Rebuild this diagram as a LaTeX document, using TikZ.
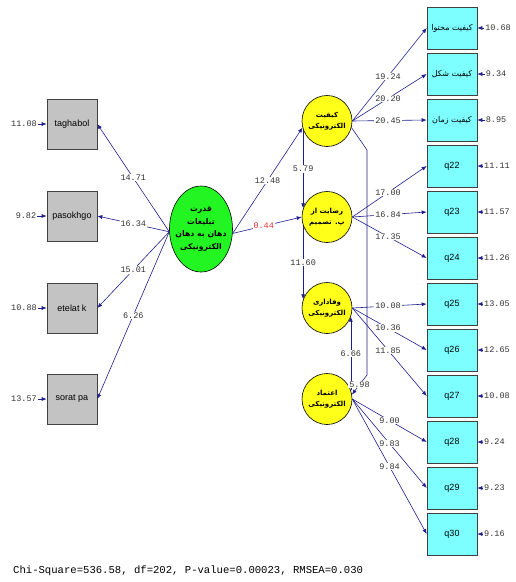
\documentclass[tikz,border=0pt]{standalone}
\usepackage{fontspec}
\setmonofont{Liberation Mono}
\setsansfont{Liberation Sans}
\newfontfamily\arabicfont[Script=Arabic]{DejaVu Sans}
\TeXXeTstate=1
\newcommand{\fa}[1]{{\arabicfont\beginR #1\endR}}
\usetikzlibrary{arrows.meta,shapes.geometric}
\definecolor{PathBlue}{HTML}{1E1E8C}
\definecolor{LatentYellow}{HTML}{FFFF1A}
\definecolor{LatentGreen}{HTML}{22F522}
\definecolor{ItemCyan}{HTML}{7DFFFF}
\definecolor{ItemGray}{HTML}{C3C3C3}
\definecolor{ValueRed}{HTML}{F03030}

\begin{document}
\begin{tikzpicture}[x=1pt,y=-1pt,
  link/.style={draw=PathBlue,line width=0.6pt,-{Latex[length=5pt,width=4pt]}},
  coef/.style={fill=white,inner sep=0.8pt,text=black!80,font=\ttfamily\fontsize{8.5}{9}\selectfont},
  errlab/.style={inner sep=1pt,text=black!80,font=\ttfamily\fontsize{8.5}{9}\selectfont},
  item/.style={draw=black!75,line width=0.6pt,minimum width=50pt,font=\sffamily\fontsize{9}{10}\selectfont},
  latent/.style={ellipse,draw,line width=0.6pt,fill=LatentYellow,minimum width=50pt,minimum height=51pt,inner xsep=-9pt,inner ysep=-2pt,align=center,font=\bfseries\fontsize{7}{11}\selectfont}]
  \useasboundingbox (0,0) rectangle (515,582);
  % left indicators
  \node[item,fill=ItemGray,minimum height=50pt] (taghabol) at (72,124) {taghabol};
  \node[item,fill=ItemGray,minimum height=50pt] (pasokhgo) at (72,216) {pasokhgo};
  \node[item,fill=ItemGray,minimum height=50pt] (etelat) at (72,308) {etelat k};
  \node[item,fill=ItemGray,minimum height=50pt] (sorat) at (72,399) {sorat pa};
  \node[errlab] (etaghabol) at (24,124) {11.08}; \draw[link] (etaghabol) -- (taghabol);
  \node[errlab] (epasokhgo) at (26,216) {9.82}; \draw[link] (epasokhgo) -- (pasokhgo);
  \node[errlab] (eetelat) at (24,308) {10.88}; \draw[link] (eetelat) -- (etelat);
  \node[errlab] (esorat) at (24,399) {13.57}; \draw[link] (esorat) -- (sorat);
  % latent variables
  \node[latent,fill=LatentGreen,minimum width=63pt,minimum height=86pt,font=\bfseries\fontsize{7.8}{12.5}\selectfont] (ewom) at (201,229) {\fa{قدرت}\\\fa{تبلیغات}\\\fa{دهان به دهان}\\\fa{الکترونیکی}};
  \node[latent] (quality) at (327,121) {\fa{کیفیت}\\\fa{الکترونیکی}};
  \node[latent] (satisf) at (327,217) {\fa{رضایت از}\\\fa{پ. تصمیم}};
  \node[latent] (loyal) at (327,308) {\fa{وفاداری}\\\fa{الکترونیکی}};
  \node[latent] (trust) at (327,399) {\fa{اعتماد}\\\fa{الکترونیکی}};
  % right indicators
  \node[item,fill=ItemCyan,minimum height=42pt,font=\fontsize{8}{9}\selectfont] (content) at (452,28) {\fa{کیفیت محتوا}};
  \node[item,fill=ItemCyan,minimum height=42pt,font=\fontsize{8}{9}\selectfont] (shape) at (452,74) {\fa{کیفیت شکل}};
  \node[item,fill=ItemCyan,minimum height=42pt,font=\fontsize{8}{9}\selectfont] (time) at (452,120) {\fa{کیفیت زمان}};
  \node[errlab] (econtent) at (498,28) {10.68}; \draw[link] (econtent) -- (content);
  \node[errlab] (eshape) at (496,74) {9.34}; \draw[link] (eshape) -- (shape);
  \node[errlab] (etime) at (496,120) {8.95}; \draw[link] (etime) -- (time);
  \foreach \q/\err [count=\i from 3] in {q22/11.11,q23/11.57,q24/11.26,q25/13.05,q26/12.65,q27/10.08,q28/9.24,q29/9.23,q30/9.16}{
    \node[item,fill=ItemCyan,minimum height=42pt] (\q) at (452,{28+46*\i}) {\q};
    \node[errlab,anchor=west] (e\q) at (483,{28+46*\i}) {\err}; \draw[link] (e\q) -- (\q);
  }
  % ewom loadings
  \draw[link] (ewom.185) -- node[coef] {14.71} (taghabol.east);
  \draw[link] (ewom.185) -- node[coef] {16.34} (pasokhgo.east);
  \draw[link] (ewom.185) -- node[coef] {15.01} (etelat.east);
  \draw[link] (ewom.185) -- node[coef] {6.26} (sorat.east);
  % structural paths
  \draw[link] (ewom.-8) -- node[coef] {12.48} (quality.195);
  \draw[link] (ewom.-8) -- node[coef,text=ValueRed,pos=.45] {0.44} (satisf.west);
  \draw[link] (quality.200) -- node[coef] {5.79} (satisf.160);
  \draw[link] (satisf.200) -- node[coef] {11.60} (loyal.160);
  \draw[link] (trust.20) -- node[coef] {6.66} (loyal.-20);
  \coordinate (bendA) at (367,150); \coordinate (bendB) at (367,375);
  \draw[link] (quality.-15) -- (bendA) -- (bendB) -- node[coef] {5.98} (trust.10);
  % indicator loadings
  \draw[link] (quality.east) -- node[coef,pos=.48] {19.24} (content.west);
  \draw[link] (quality.east) -- node[coef,pos=.48] {20.20} (shape.west);
  \draw[link] (quality.east) -- node[coef,pos=.48] {20.45} (time.west);
  \draw[link] (satisf.east) -- node[coef,pos=.48] {17.00} (q22.west);
  \draw[link] (satisf.east) -- node[coef,pos=.48] {16.84} (q23.west);
  \draw[link] (satisf.east) -- node[coef,pos=.48] {17.35} (q24.west);
  \draw[link] (loyal.east) -- node[coef,pos=.48] {10.08} (q25.west);
  \draw[link] (loyal.east) -- node[coef,pos=.48] {10.36} (q26.west);
  \draw[link] (loyal.east) -- node[coef,pos=.48] {11.85} (q27.west);
  \draw[link] (trust.east) -- node[coef,pos=.5] {9.00} (q28.west);
  \draw[link] (trust.east) -- node[coef,pos=.5] {9.83} (q29.west);
  \draw[link] (trust.east) -- node[coef,pos=.5] {9.84} (q30.west);
  \node[anchor=west,inner sep=0pt,font=\ttfamily\fontsize{10.6}{12}\selectfont] (fit) at (13,571) {Chi-Square=536.58, df=202, P-value=0.00023, RMSEA=0.030};
\end{tikzpicture}
\end{document}
